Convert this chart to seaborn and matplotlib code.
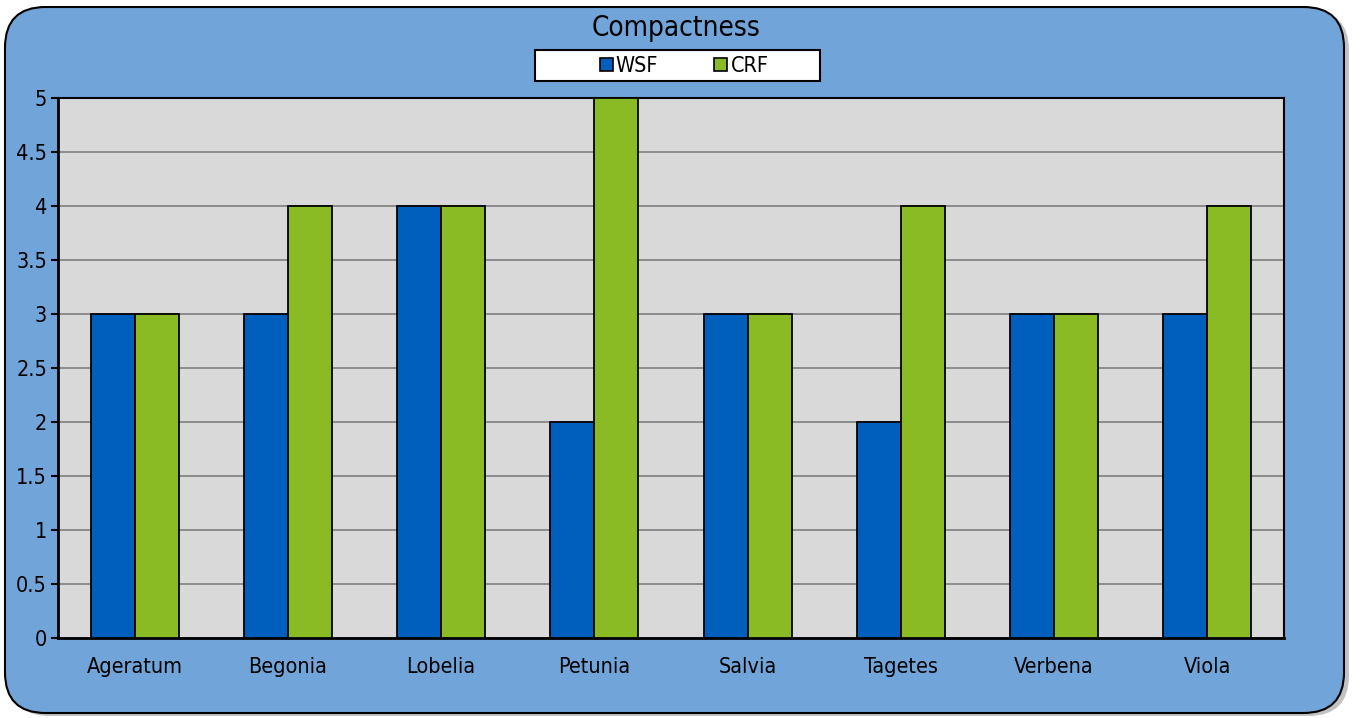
import matplotlib
matplotlib.use("Agg")
import matplotlib.pyplot as plt
from matplotlib.patches import FancyBboxPatch, Rectangle, Patch
import numpy as np
import pandas as pd
import seaborn as sns

# Compactness ratings per bedding-plant species, two fertilizer treatments
species = ["Ageratum", "Begonia", "Lobelia", "Petunia", "Salvia", "Tagetes", "Verbena", "Viola"]
wsf = [3, 3, 4, 2, 3, 2, 3, 3]
crf = [3, 4, 4, 5, 3, 4, 3, 4]
series_names = ["WSF", "CRF"]
y_ticks = [0, 0.5, 1, 1.5, 2, 2.5, 3, 3.5, 4, 4.5, 5]
y_tick_labels = ["0", "0.5", "1", "1.5", "2", "2.5", "3", "3.5", "4", "4.5", "5"]

colors = {"WSF": "#005EBD", "CRF": "#8ABB25"}
panel_blue = "#71A5DA"
plot_gray = "#D9D9D9"

df = pd.DataFrame({
    "Species": species * 2,
    "Series": [series_names[0]] * len(species) + [series_names[1]] * len(species),
    "Value": wsf + crf,
})

sns.set_theme(style="white")
plt.rcParams["font.family"] = ["DejaVu Sans"]
plt.rcParams["font.stretch"] = "condensed"

W, H = 1353, 718
fig = plt.figure(figsize=(W / 100, H / 100), dpi=100)
fig.patch.set_facecolor("white")

# rounded panel with a soft drop shadow
shadow = FancyBboxPatch((9 / W, 2 / H), (1340 / W), (706 / H),
                        boxstyle="round,pad=0,rounding_size=0.03",
                        transform=fig.transFigure, facecolor="#9a9a9a",
                        edgecolor="none", alpha=0.6, zorder=0,
                        mutation_aspect=W / H)
fig.patches.append(shadow)
panel = FancyBboxPatch((5 / W, 5 / H), (1339 / W), (706 / H),
                       boxstyle="round,pad=0,rounding_size=0.03",
                       transform=fig.transFigure, facecolor=panel_blue,
                       edgecolor="black", linewidth=1.5, zorder=1,
                       mutation_aspect=W / H)
fig.patches.append(panel)

ax = fig.add_axes([58 / W, 1 - 638 / H, (1284 - 58) / W, (638 - 98) / H])
ax.set_facecolor(plot_gray)
ax.set_zorder(2)

sns.barplot(data=df, x="Species", y="Value", hue="Series", order=species,
            hue_order=series_names, palette=colors, width=0.575, gap=0,
            edgecolor="black", linewidth=1.3, saturation=1, legend=False,
            ax=ax, zorder=3)

ax.set_ylim(0, 5)
ax.set_xlim(-0.5, len(species) - 0.5)
ax.set_yticks(y_ticks)
ax.set_yticklabels(y_tick_labels)
ax.yaxis.grid(True, color="#8c8c8c", linewidth=1.4, zorder=1)
ax.set_axisbelow(True)
ax.set_xlabel("")
ax.set_ylabel("")

ax.set_xticks(range(len(species)))
ax.set_xticklabels(species)
ax.set_xticks(np.arange(-0.5, len(species), 1.0), minor=True)
ax.tick_params(axis="x", which="major", length=0, pad=14, labelsize=15.5, colors="black")
ax.tick_params(axis="x", which="minor", length=8, width=1.5, color="black", direction="out")
ax.tick_params(axis="y", length=5, width=1.5, color="black", direction="out",
               labelsize=15.5, pad=3, left=True)
for lab in ax.get_yticklabels() + ax.get_xticklabels():
    lab.set_color("black")

for side in ["left", "bottom"]:
    ax.spines[side].set_color("black")
    ax.spines[side].set_linewidth(2)
for side in ["top", "right"]:
    ax.spines[side].set_color("black")
    ax.spines[side].set_linewidth(1.5)

fig.text(0.5, 1 - 28 / H, "Compactness", ha="center", va="center", fontsize=20,
         color="black")

# legend box drawn as its own white frame, entries placed inside it
legend_box = Rectangle((535 / W, 1 - 81 / H), (820 - 535) / W, 31 / H,
                       transform=fig.transFigure, facecolor="white",
                       edgecolor="black", linewidth=1.5, zorder=4)
fig.patches.append(legend_box)

handles = [Patch(facecolor=colors[s], edgecolor="black", linewidth=1.2, label=s) for s in series_names]
leg = fig.legend(handles=handles, ncol=2, loc="center", bbox_to_anchor=(684 / W, 1 - 66 / H),
                 frameon=False, fontsize=15.5, handlelength=0.6, handleheight=0.6,
                 handletextpad=0.15, columnspacing=2.6, borderpad=0, borderaxespad=0,
                 labelcolor="black")
leg.set_zorder(5)

fig.savefig("out.png", dpi=100, facecolor=fig.get_facecolor())
